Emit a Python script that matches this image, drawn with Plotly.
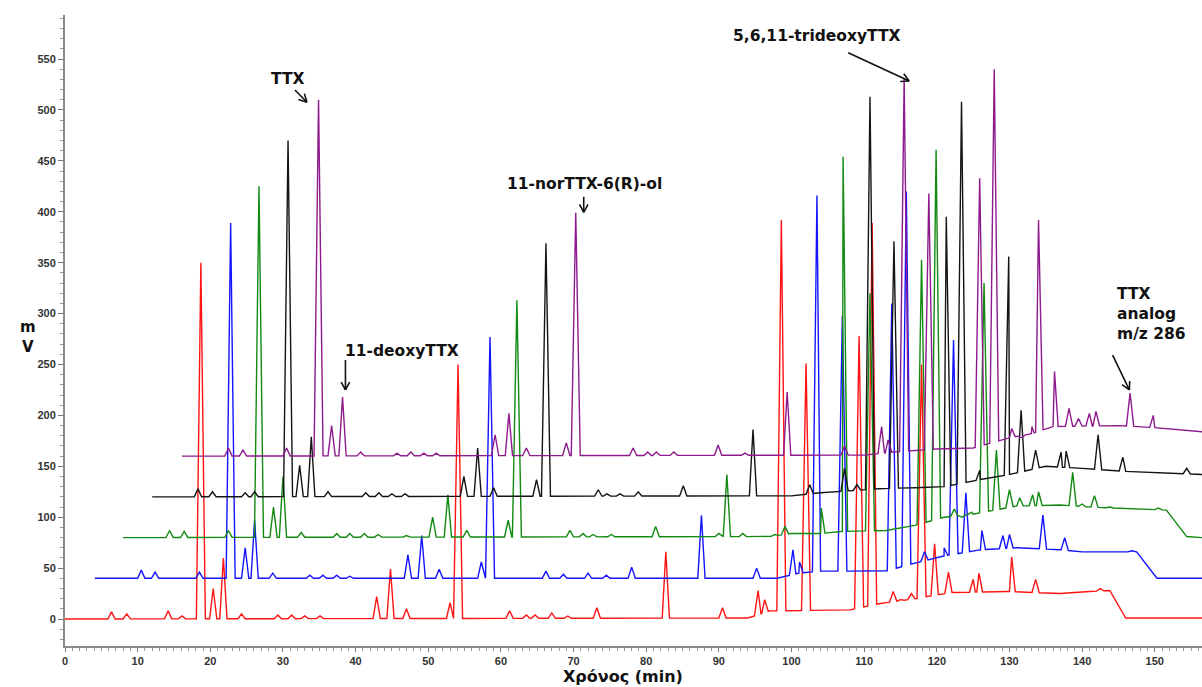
import numpy as np
import plotly.graph_objects as go

# ---- chromatogram data (time in min, signal in mV) ----
T_END = 156.5

# red run
RED_START = 0.0
RED_BASE_T = [0, 94, 97, 108, 112, 117, 122, 130, 137, 141, 143.8, 146, 156.5]
RED_BASE_V = [0, 1, 8, 9, 15, 20, 26, 27, 25, 27, 28, 1, 1]
RED_PEAK_T = [6.4, 8.5, 14.2, 16.1, 18.7, 20.4, 21.8, 24.3, 29.3, 31.2, 33.0, 35.1,
              42.9, 44.8, 47.0, 53.0, 54.1, 61.2, 63.5, 64.7, 67.0, 69.2, 73.2, 82.7,
              90.5, 95.4, 96.3, 98.6, 102.0, 109.3, 111.1, 114.0, 115.0, 116.5, 117.9,
              119.7, 121.6, 125.0, 125.8, 130.3, 133.6, 142.5]
RED_PEAK_V = [7, 5, 8, 3, 350, 30, 60, 5, 4, 4, 3, 3,
              22, 49, 10, 16, 250, 8, 4, 4, 6, 3, 11, 66,
              11, 28, 19, 392, 251, 278, 389, 27, 19, 25, 250,
              74, 46, 39, 45, 61, 39, 30]

# blue run
BLUE_START = 4.1
BLUE_BASE_T = [4.1, 98, 101, 104, 108, 113, 117, 121, 126, 131, 137, 140, 147.5, 150.3, 156.5]
BLUE_BASE_V = [40, 40, 45, 47, 47, 47, 55, 62, 68, 70, 68, 66, 66, 40, 40]
BLUE_PEAK_T = [10.5, 12.4, 18.5, 22.8, 24.8, 26.1, 28.6, 33.7, 35.5, 37.4, 39.2,
               47.2, 49.1, 51.5, 57.3, 58.5, 66.2, 68.6, 72.0, 74.5, 78.0, 87.6,
               95.2, 100.2, 101.1, 103.5, 107.0, 113.8, 115.8, 118.3, 121.0, 122.3,
               124.0, 126.2, 129.1, 130.0, 134.6, 137.6, 146.8]
BLUE_PEAK_V = [48, 46, 46, 389, 70, 97, 45, 43, 43, 43, 42,
               63, 82, 49, 56, 277, 47, 44, 45, 43, 51, 102,
               50, 68, 56, 416, 298, 310, 420, 66, 70, 274,
               124, 87, 82, 83, 102, 80, 67]

# green run
GREEN_START = 8.0
GREEN_BASE_T = [8, 97, 100, 104, 107, 113, 117, 121, 125, 131, 137, 141, 151.6, 154.4, 156.5]
GREEN_BASE_V = [80, 81, 84, 84, 86, 87, 92, 100, 103, 111, 112, 110, 107, 81, 80]
GREEN_PEAK_T = [14.4, 16.4, 22.5, 26.7, 28.7, 30.0, 32.5, 37.4, 39.2, 41.2, 43.1, 47.0,
                50.6, 52.7, 55.3, 61.0, 62.2, 69.5, 71.3, 72.7, 75.2, 81.3, 90.0, 91.1,
                93.3, 97.7, 99.1, 104.1, 107.1, 110.8, 117.9, 119.9, 122.4, 123.5, 124.8,
                126.5, 128.2, 130.0, 131.4, 133.2, 134.0, 138.7, 140.0, 141.7, 143.8, 150.5]
GREEN_PEAK_V = [87, 86, 87, 425, 110, 140, 85, 84, 84, 84, 83, 82,
                100, 122, 87, 97, 313, 87, 84, 83, 83, 91, 84, 142,
                84, 83, 91, 109, 454, 320, 353, 461, 108, 100, 105,
                330, 166, 127, 119, 122, 125, 144, 113, 121, 110, 109]

# black run
BLACK_START = 12.0
BLACK_BASE_T = [12, 100, 104, 112, 117, 121, 126, 130, 135, 140, 146, 156.5]
BLACK_BASE_V = [120, 121, 124, 128, 129, 130, 137, 142, 150, 148, 145, 142]
BLACK_PEAK_T = [18.3, 20.3, 24.8, 26.1, 30.7, 32.3, 33.9, 36.2, 41.4, 43.2, 45.0, 46.8,
                54.9, 56.8, 59.0, 64.9, 66.2, 73.4, 74.6, 76.4, 78.9, 85.1, 94.7,
                102.5, 107.3, 109.0, 110.8, 114.1, 121.3, 123.4, 125.9, 128.7, 129.9,
                131.6, 133.6, 137.1, 137.8, 142.2, 145.6, 154.4]
BLACK_PEAK_V = [128, 125, 124, 125, 470, 151, 179, 125, 124, 124, 123, 123,
                140, 168, 129, 137, 369, 127, 123, 123, 125, 131, 186,
                132, 148, 132, 513, 371, 395, 508, 146, 140, 356,
                205, 166, 164, 165, 181, 159, 148]

# purple run
PURPLE_START = 16.1
PURPLE_BASE_T = [16.1, 110, 114, 120, 125, 130, 133, 136, 145, 150, 156.5]
PURPLE_BASE_V = [160, 161, 164, 167, 168, 178, 182, 189, 190, 188, 184]
PURPLE_PEAK_T = [22.5, 24.5, 30.5, 34.9, 36.7, 38.2, 40.7, 45.7, 47.6, 49.4, 51.1,
                 59.2, 61.1, 63.5, 69.0, 70.3, 78.2, 80.2, 81.4, 83.8, 89.9, 93.6,
                 99.4, 107.3, 112.4, 113.3, 115.5, 118.9, 125.9, 127.9, 130.3, 131.7,
                 133.1, 134.0, 136.2, 138.2, 139.5, 141.0, 141.9, 146.6, 149.8]
PURPLE_PEAK_V = [168, 166, 168, 510, 190, 218, 164, 163, 164, 163, 163,
                 181, 202, 168, 173, 399, 168, 164, 164, 164, 171, 163,
                 223, 170, 189, 176, 531, 418, 433, 540, 187, 178,
                 189, 392, 243, 207, 197, 202, 204, 222, 200]

RUNS = [
    ("red", "#ff1414", RED_START, RED_BASE_T, RED_BASE_V, RED_PEAK_T, RED_PEAK_V),
    ("blue", "#1414ff", BLUE_START, BLUE_BASE_T, BLUE_BASE_V, BLUE_PEAK_T, BLUE_PEAK_V),
    ("green", "#128a12", GREEN_START, GREEN_BASE_T, GREEN_BASE_V, GREEN_PEAK_T, GREEN_PEAK_V),
    ("black", "#141414", BLACK_START, BLACK_BASE_T, BLACK_BASE_V, BLACK_PEAK_T, BLACK_PEAK_V),
    ("purple", "#8e1a8e", PURPLE_START, PURPLE_BASE_T, PURPLE_BASE_V, PURPLE_PEAK_T, PURPLE_PEAK_V),
]


def trace_outline(start, base_t, base_v, peak_t, peak_v):
    """Polyline of a run: drifting baseline with a triangular outline per peak."""
    pts = list(zip(base_t, base_v))
    for t, v in zip(peak_t, peak_v):
        b = float(np.interp(t, base_t, base_v))
        half = 0.62 if v - b > 100 else 0.5
        for tt in (t - half, t + half):
            pts.append((tt, float(np.interp(tt, base_t, base_v))))
        pts.append((t, v))
    pts = sorted(p for p in pts if start <= p[0] <= T_END)
    return [p[0] for p in pts], [p[1] for p in pts]


fig = go.Figure()
for name, color, start, bt, bv, pt, pv in RUNS:
    xs, ys = trace_outline(start, bt, bv, pt, pv)
    fig.add_trace(go.Scatter(x=xs, y=ys, mode="lines", name=name,
                             line=dict(color=color, width=1.4), showlegend=False,
                             hoverinfo="skip"))

# ---- axes geometry ----
X_RANGE = [0, T_END]
Y_RANGE = [-26.5, 593.3]
W, H = 1202, 687
M = dict(l=65, r=0, t=15, b=41)
KX = (W - M["l"] - M["r"]) / (X_RANGE[1] - X_RANGE[0])
KY = (H - M["t"] - M["b"]) / (Y_RANGE[1] - Y_RANGE[0])

LABEL_FONT = dict(family="DejaVu Sans", size=15.5, color="#111", weight="bold")


def open_arrow(x0, y0, x1, y1, head=9, spread=28):
    """Shaft plus an open 'V' head pointing at (x1, y1)."""
    line = dict(color="#111", width=1.6)
    fig.add_shape(type="line", x0=x0, y0=y0, x1=x1, y1=y1, line=line)
    dx, dy = (x1 - x0) * KX, (y1 - y0) * KY
    ang = np.arctan2(dy, dx)
    for s in (-1, 1):
        a = ang + np.pi + s * np.radians(spread)
        hx = x1 + head * np.cos(a) / KX
        hy = y1 + head * np.sin(a) / KY
        fig.add_shape(type="line", x0=x1, y0=y1, x1=hx, y1=hy, line=line)


# compound labels
fig.add_annotation(x=30.75, y=530.5, text="TTX", showarrow=False, font=LABEL_FONT)
open_arrow(31.65, 519.6, 33.3, 507.6)

fig.add_annotation(x=46.4, y=263.3, text="11-deoxyTTX", showarrow=False, font=LABEL_FONT)
open_arrow(38.6, 254.4, 38.6, 225.0)

fig.add_annotation(x=71.5, y=427.0, text="11-norTTX-6(R)-ol", showarrow=False, font=LABEL_FONT)
open_arrow(71.4, 414.8, 71.4, 399.5)

fig.add_annotation(x=103.5, y=572.7, text="5,6,11-trideoxyTTX", showarrow=False, font=LABEL_FONT)
open_arrow(107.8, 556.3, 116.2, 528.5)

fig.add_annotation(x=144.5, y=299.5, text="TTX<br>analog<br>m/z 286", showarrow=False,
                   font=LABEL_FONT, xanchor="left", align="left")
open_arrow(144.2, 259.3, 146.5, 225.0)

# axis titles
fig.add_annotation(xref="paper", yref="paper", x=(18 - M["l"]) / (W - M["l"]),
                   y=(H - M["b"] - 337) / (H - M["t"] - M["b"]),
                   text="m<br>V", showarrow=False, font=dict(family="DejaVu Sans", size=15,
                                                              color="#111", weight="bold"))
fig.add_annotation(xref="paper", yref="paper", x=(623 - M["l"]) / (W - M["l"]),
                   y=-(676 - (H - M["b"])) / (H - M["t"] - M["b"]), yanchor="middle",
                   text="Χρόνος (min)", showarrow=False,
                   font=dict(family="DejaVu Sans", size=16, color="#111", weight="bold"))

tick_font = dict(family="Liberation Sans", size=11, color="#333", weight="bold")
fig.update_xaxes(range=X_RANGE, showline=True, linecolor="#8a8a8a", linewidth=2,
                 ticks="outside", ticklen=4, tickcolor="#777", dtick=10, tick0=0,
                 tickfont=tick_font, showgrid=False, zeroline=False,
                 minor=dict(dtick=1, ticks="outside", ticklen=3, tickcolor="#999"))
fig.update_yaxes(range=Y_RANGE, showline=True, linecolor="#8a8a8a", linewidth=2,
                 ticks="outside", ticklen=5, tickcolor="#777", dtick=50, tick0=0,
                 tickfont=tick_font, showgrid=False, zeroline=False,
                 minor=dict(dtick=10, ticks="outside", ticklen=3, tickcolor="#999"))

fig.update_layout(width=W, height=H, margin=M, plot_bgcolor="white",
                  paper_bgcolor="white")

fig.write_html("out.html")
